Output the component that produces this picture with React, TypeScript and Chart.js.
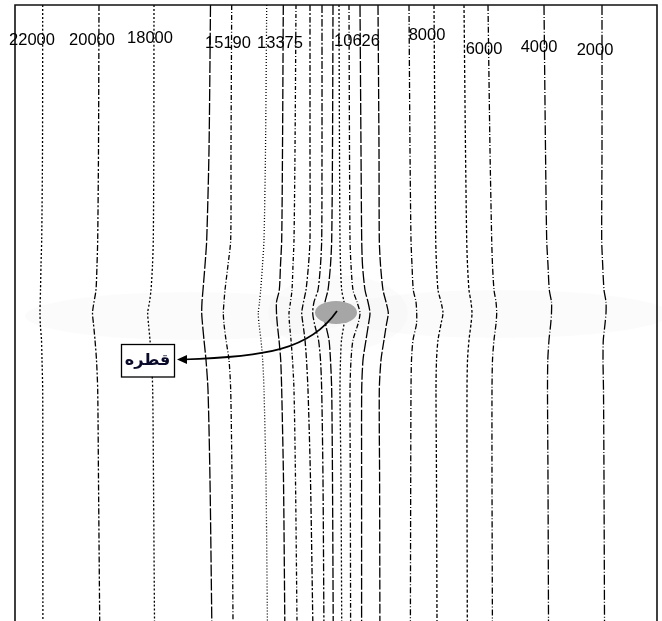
import React, { useEffect, useRef } from "react";
import { Chart, registerables } from "chart.js";

Chart.register(...registerables);

// Depth stations (vertical position, top of frame = 5, bottom = 621)
const DEPTHS = [5, 150, 240, 265, 290, 302, 313, 324, 340, 360, 390, 480, 621];

// Horizontal position of each contour line at every depth station
const LINE_01 = [42.7, 42.5, 41.7, 41, 40.5, 40.2, 40, 40.3, 41.5, 42, 42.7, 42.8, 42.9];
const LINE_02 = [99, 98.5, 97.7, 97, 96, 94, 92.5, 93.5, 95, 96.5, 97.7, 98.5, 99.7];
const LINE_03 = [154, 153.8, 153.3, 152.5, 151, 149.5, 147.7, 148.5, 150, 151.5, 152.7, 153.5, 154.5];
const LINE_04 = [210.5, 209, 206.7, 205, 203, 202, 201.7, 202.5, 204, 206, 208, 210, 211.8];
const LINE_05 = [231.7, 231, 230.7, 228, 225, 224, 223.3, 224, 226, 229, 230.7, 232, 233];
const LINE_06 = [266.7, 265.5, 264, 262.5, 260.7, 259.5, 258.3, 259, 261, 262.7, 264, 266, 267.4];
const LINE_07 = [283.3, 282.5, 281.7, 280.5, 279.3, 276.5, 276.5, 277.3, 279, 280.7, 281.7, 283.5, 284.8];
const LINE_08 = [296, 295, 294, 293, 292, 290.5, 289, 289.5, 291, 292.5, 294, 295.5, 297];
const LINE_09 = [310, 310, 310, 308.5, 306, 303.5, 301.7, 303, 305, 306.5, 308, 310.5, 312.8];
const LINE_10 = [322, 322, 321.7, 320.5, 318, 314, 312.7, 314.5, 318.5, 320.5, 321.7, 323, 323.9];
const LINE_11 = [333, 332.5, 331.7, 330.5, 328, 325, 324, 325.5, 329, 330.5, 331.7, 332.5, 333.2];
const LINE_12 = [339, 339.5, 340, 340.5, 341.7, 344, 345, 344, 341.5, 340.5, 340, 341, 341.7];
const LINE_13 = [349, 349.5, 350, 351, 353, 357, 360, 358, 353, 351, 350, 350.3, 350.6];
const LINE_14 = [360, 361, 361.7, 362.5, 365, 368, 370, 368.5, 366, 363, 361.7, 361.6, 361.6];
const LINE_15 = [378, 379, 379.3, 380.5, 383, 386, 388.3, 386.5, 384, 381, 379.3, 379.6, 379.9];
const LINE_16 = [409, 410, 411, 412, 413.3, 416, 416.7, 416.5, 413, 411.5, 411, 410.7, 410.4];
const LINE_17 = [434, 435, 435.7, 436.5, 438, 441, 443, 441, 438, 436.5, 436, 436.5, 437];
const LINE_18 = [464, 465.5, 466.7, 467.5, 469, 471, 472, 471, 469, 467.5, 467, 467, 467.3];
const LINE_19 = [488, 490, 491.7, 492.5, 494, 496, 496.7, 496, 494, 492.5, 492, 492, 492.4];
const LINE_20 = [544, 545.5, 546.7, 548, 549.3, 551.5, 551.5, 550.7, 549, 547.8, 547.5, 548, 548.5];
const LINE_21 = [602, 602, 601.7, 602.7, 604, 606, 606, 605, 603.3, 603, 603.5, 604, 604.5];

const CONTOURS = [
  LINE_01, LINE_02, LINE_03, LINE_04, LINE_05, LINE_06, LINE_07, LINE_08, LINE_09, LINE_10, LINE_11,
  LINE_12, LINE_13, LINE_14, LINE_15, LINE_16, LINE_17, LINE_18, LINE_19, LINE_20, LINE_21,
];

// Contour labels
const LABEL_TEXT = ["22000", "20000", "18000", "15190", "13375", "10626", "8000", "6000", "4000", "2000"];
const LABEL_X = [32, 92, 150, 228, 280, 357, 427, 484, 539, 595];
const LABEL_Y = [40, 40, 38, 43, 43, 41, 35, 49, 47, 50];

const DROP_LABEL = "قطره";

// ---- styles / geometry (not data) ----
const DASHES = [
  [2, 2], [6, 2, 2, 2], [2, 2], [12, 2], [5, 2, 1, 2], [1, 2], [10, 2], [4, 2, 1, 2],
  [6, 2, 2, 2], [8, 2, 2, 2], [10, 2], [2, 2], [5, 2, 1, 2], [12, 2], [10, 2], [6, 2, 1, 2],
  [4, 2, 2, 2], [3, 2], [6, 2, 1, 2], [10, 2, 1, 2], [10, 2, 1, 2],
];
const X_RANGE = [15, 657];
const Y_RANGE = [5, 621];
const DROP = { cx: 336, cy: 312.5, rx: 21, ry: 11.5 };
const BANDS = [
  { cx: 190, cy: 316, rx: 165, ry: 24 },
  { cx: 500, cy: 314, rx: 170, ry: 24 },
  { cx: 338, cy: 313, rx: 70, ry: 38 },
];
const ARROW = { p0: [337, 311], p1: [310, 350], p2: [265, 357], p3: [177, 359.5] };
const BOX = { x0: 121, x1: 174, y0: 344, y1: 376.5 };

const overlay = {
  id: "overlay",
  beforeDatasetsDraw(chart: any) {
    const { ctx, scales } = chart;
    const sx = scales.x, sy = scales.y;
    ctx.save();
    ctx.fillStyle = "rgba(0,0,0,0.016)";
    for (const b of BANDS) {
      const px = sx.getPixelForValue(b.cx);
      const py = sy.getPixelForValue(b.cy);
      const rx = Math.abs(sx.getPixelForValue(b.cx + b.rx) - px);
      const ry = Math.abs(sy.getPixelForValue(b.cy + b.ry) - py);
      ctx.beginPath();
      ctx.ellipse(px, py, rx, ry, 0, 0, Math.PI * 2);
      ctx.fill();
    }
    ctx.restore();
  },
  afterDatasetsDraw(chart: any) {
    const { ctx, scales, chartArea } = chart;
    const sx = scales.x, sy = scales.y;
    const P = (x: number, y: number) => [sx.getPixelForValue(x), sy.getPixelForValue(y)];
    ctx.save();

    // frame (left, top, right)
    ctx.strokeStyle = "#111";
    ctx.lineWidth = 1.6;
    ctx.setLineDash([]);
    ctx.beginPath();
    ctx.moveTo(chartArea.left, chartArea.bottom + 2);
    ctx.lineTo(chartArea.left, chartArea.top);
    ctx.lineTo(chartArea.right, chartArea.top);
    ctx.lineTo(chartArea.right, chartArea.bottom + 2);
    ctx.stroke();

    // droplet
    const [dx, dy] = P(DROP.cx, DROP.cy);
    const drx = Math.abs(sx.getPixelForValue(DROP.cx + DROP.rx) - dx);
    const dry = Math.abs(sy.getPixelForValue(DROP.cy + DROP.ry) - dy);
    ctx.fillStyle = "#a6a6a6";
    ctx.beginPath();
    ctx.ellipse(dx, dy, drx, dry, 0, 0, Math.PI * 2);
    ctx.fill();

    // arrow
    const a0 = P(ARROW.p0[0], ARROW.p0[1]);
    const a1 = P(ARROW.p1[0], ARROW.p1[1]);
    const a2 = P(ARROW.p2[0], ARROW.p2[1]);
    const a3 = P(ARROW.p3[0], ARROW.p3[1]);
    ctx.strokeStyle = "#000";
    ctx.lineWidth = 1.7;
    ctx.beginPath();
    ctx.moveTo(a0[0], a0[1]);
    ctx.bezierCurveTo(a1[0], a1[1], a2[0], a2[1], a3[0] + 6, a3[1]);
    ctx.stroke();
    ctx.fillStyle = "#000";
    ctx.beginPath();
    ctx.moveTo(a3[0], a3[1]);
    ctx.lineTo(a3[0] + 10, a3[1] - 4.5);
    ctx.lineTo(a3[0] + 10, a3[1] + 4.5);
    ctx.closePath();
    ctx.fill();

    // label box
    const b0 = P(BOX.x0, BOX.y0);
    const b1 = P(BOX.x1, BOX.y1);
    ctx.fillStyle = "#fff";
    ctx.fillRect(b0[0], b0[1], b1[0] - b0[0], b1[1] - b0[1]);
    ctx.strokeStyle = "#000";
    ctx.lineWidth = 1.3;
    ctx.strokeRect(b0[0] + 0.5, b0[1] + 0.5, b1[0] - b0[0], b1[1] - b0[1]);
    ctx.fillStyle = "#0a0a2a";
    ctx.font = "bold 16px 'DejaVu Sans', sans-serif";
    ctx.textAlign = "center";
    ctx.textBaseline = "middle";
    ctx.fillText(DROP_LABEL, (b0[0] + b1[0]) / 2, (b0[1] + b1[1]) / 2 + 1);

    // contour labels
    ctx.fillStyle = "#000";
    ctx.font = "16.5px 'Liberation Sans', Arial, sans-serif";
    LABEL_TEXT.forEach((t, i) => {
      const [lx, ly] = P(LABEL_X[i], LABEL_Y[i]);
      ctx.fillText(t, lx, ly);
    });
    ctx.restore();
  },
};

export default function App() {
  const ref = useRef<HTMLCanvasElement | null>(null);
  useEffect(() => {
    document.body.style.margin = "0";
    if (!ref.current) return;
    const chart = new Chart(ref.current, {
      type: "scatter",
      data: {
        datasets: CONTOURS.map((xs, i) => ({
          data: xs.map((x, j) => ({ x, y: DEPTHS[j] })),
          showLine: true,
          pointRadius: 0,
          pointHoverRadius: 0,
          borderColor: "#000",
          borderWidth: 1.3,
          borderDash: DASHES[i],
          tension: 0.25,
          fill: false,
        })),
      },
      options: {
        responsive: false,
        animation: false,
        events: [],
        layout: { padding: { left: 15, top: 5, right: 5, bottom: 0 } },
        plugins: { legend: { display: false }, tooltip: { enabled: false } },
        scales: {
          x: { type: "linear", min: X_RANGE[0], max: X_RANGE[1], display: false },
          y: { type: "linear", min: Y_RANGE[0], max: Y_RANGE[1], reverse: true, display: false },
        },
      },
      plugins: [overlay],
    });
    return () => chart.destroy();
  }, []);
  return (
    <div style={{ position: "absolute", left: 0, top: 0, width: 662, height: 621, background: "#fff" }}>
      <canvas ref={ref} width={662} height={621} style={{ display: "block" }} />
    </div>
  );
}
